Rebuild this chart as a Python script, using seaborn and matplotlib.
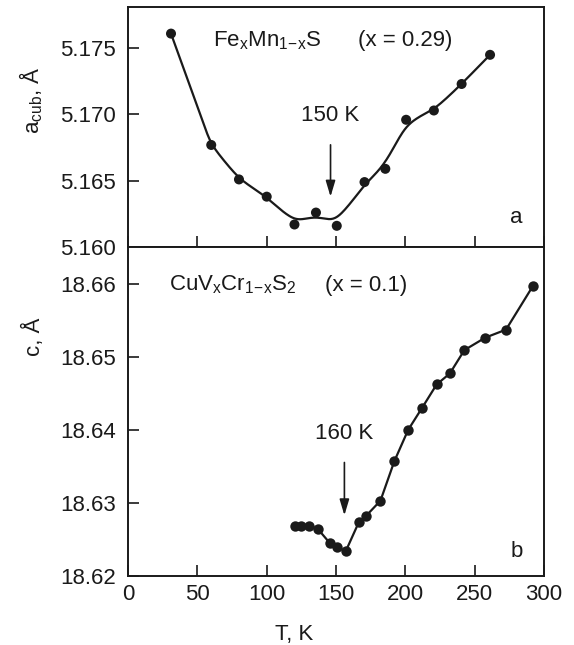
import matplotlib.pyplot as plt
import seaborn as sns
import pandas as pd
import numpy as np

# panel a: Fe_xMn_{1-x}S (x = 0.29)
t_a = [31, 60, 80, 100, 120, 135.5, 150.5, 170.5, 185.5, 200.5, 220.5, 240.5, 261]
a_cub = [5.1761, 5.1677, 5.1651, 5.1638, 5.1617, 5.1626, 5.1616, 5.1649, 5.1659,
         5.1696, 5.1703, 5.1723, 5.1745]

# panel b: CuV_xCr_{1-x}S_2 (x = 0.1)
t_b = [120.5, 125, 130.5, 137, 145.5, 151, 157, 166.5, 171.5, 182, 192, 202, 212,
       222.5, 232, 242.5, 257.5, 272.5, 292]
c_b = [18.6269, 18.6269, 18.6269, 18.6264, 18.6245, 18.6239, 18.6234, 18.6274,
       18.6282, 18.6303, 18.6357, 18.6400, 18.6430, 18.6462, 18.6477, 18.6509,
       18.6526, 18.6537, 18.6597]

xticks = [0, 50, 100, 150, 200, 250, 300]
yticks_a = [5.160, 5.165, 5.170, 5.175]
yticks_b = [18.62, 18.63, 18.64, 18.65, 18.66]

df_a = pd.DataFrame({"T": t_a, "a": a_cub})
df_b = pd.DataFrame({"T": t_b, "c": c_b})


def smooth_guide(x, y, bw=10.5, n=300):
    """local linear kernel smoother, used only for the guide-to-the-eye curve"""
    x = np.asarray(x, float)
    y = np.asarray(y, float)
    xs = np.linspace(x.min(), x.max(), n)
    ys = []
    for x0 in xs:
        w = np.exp(-0.5 * ((x - x0) / bw) ** 2)
        X = np.vstack([np.ones_like(x), x - x0]).T
        W = np.diag(w)
        beta = np.linalg.solve(X.T @ W @ X, X.T @ W @ y)
        ys.append(beta[0])
    return pd.DataFrame({"T": xs, "a": ys})


sns.set_style("ticks")
plt.rcParams["font.family"] = ["Liberation Sans", "DejaVu Sans"]
plt.rcParams["mathtext.fontset"] = "custom"
plt.rcParams["mathtext.rm"] = "Liberation Sans"
plt.rcParams["mathtext.it"] = "Liberation Sans"
plt.rcParams["mathtext.default"] = "rm"

ink = "#1a1a1a"
fs = 16

fig = plt.figure(figsize=(5.74, 6.45), dpi=100)
ax1 = fig.add_axes([0.223, 0.617, 0.725, 0.372])
ax2 = fig.add_axes([0.223, 0.107, 0.725, 0.510], sharex=ax1)

# top panel: smooth guide line + points
sns.lineplot(data=smooth_guide(t_a, a_cub), x="T", y="a", ax=ax1, color=ink, lw=1.6)
sns.scatterplot(data=df_a, x="T", y="a", ax=ax1, color=ink, s=52,
                edgecolor="none", zorder=3)

# bottom panel
sns.lineplot(data=df_b, x="T", y="c", ax=ax2, color=ink, lw=1.6,
             marker="o", markersize=7.5, markeredgewidth=0)

ax1.set_xlim(0, 300)
ax1.set_ylim(5.160, 5.1781)
ax2.set_ylim(18.62, 18.665)
ax1.set_yticks(yticks_a)
ax1.set_yticklabels([f"{v:.3f}" for v in yticks_a])
ax2.set_yticks(yticks_b)
ax2.set_yticklabels([f"{v:.2f}" for v in yticks_b])
ax2.set_xticks(xticks)
ax1.tick_params(axis="x", labelbottom=False)

for ax in (ax1, ax2):
    for sp in ax.spines.values():
        sp.set_visible(True)
        sp.set_linewidth(1.4)
        sp.set_color(ink)
    ax.tick_params(direction="in", length=8, width=1.2, labelsize=fs,
                   color=ink, labelcolor=ink, pad=9)
    ax.tick_params(axis="x", top=False, pad=6)

ax1.set_xlabel("")
ax1.set_ylabel(r"a$_{\mathrm{cub}}$, Å", fontsize=fs, color=ink)
ax1.yaxis.set_label_coords(-0.2, 0.61)
ax2.set_ylabel("c, Å", fontsize=fs, color=ink)
ax2.yaxis.set_label_coords(-0.2, 0.726)
ax2.set_xlabel("T, K", fontsize=fs, color=ink)
ax2.xaxis.set_label_coords(0.40, -0.145)

ax1.text(61, 5.1756, r"Fe$_x$Mn$_{1\!-\!x}$S", fontsize=fs, ha="left", va="center", color=ink)
ax1.text(166, 5.1756, "(x = 0.29)", fontsize=fs, ha="left", va="center", color=ink)
ax1.annotate("150 K", xy=(146, 5.1638), xytext=(146, 5.1699), fontsize=fs,
             ha="center", va="center", color=ink,
             arrowprops=dict(arrowstyle="-|>,head_length=0.6,head_width=0.18",
                             color=ink, lw=1.2, shrinkA=11, shrinkB=0,
                             mutation_scale=16))
ax1.text(280, 5.1622, "a", fontsize=fs, ha="center", va="center", color=ink)

ax2.text(29.5, 18.6598, r"CuV$_x$Cr$_{1\!-\!x}$S$_2$", fontsize=fs, ha="left", va="center", color=ink)
ax2.text(142, 18.6598, "(x = 0.1)", fontsize=fs, ha="left", va="center", color=ink)
ax2.annotate("160 K", xy=(156, 18.6283), xytext=(156, 18.6395), fontsize=fs,
             ha="center", va="center", color=ink,
             arrowprops=dict(arrowstyle="-|>,head_length=0.6,head_width=0.18",
                             color=ink, lw=1.2, shrinkA=11, shrinkB=0,
                             mutation_scale=16))
ax2.text(280.5, 18.6233, "b", fontsize=fs, ha="center", va="center", color=ink)

fig.savefig("out.png", dpi=100)
